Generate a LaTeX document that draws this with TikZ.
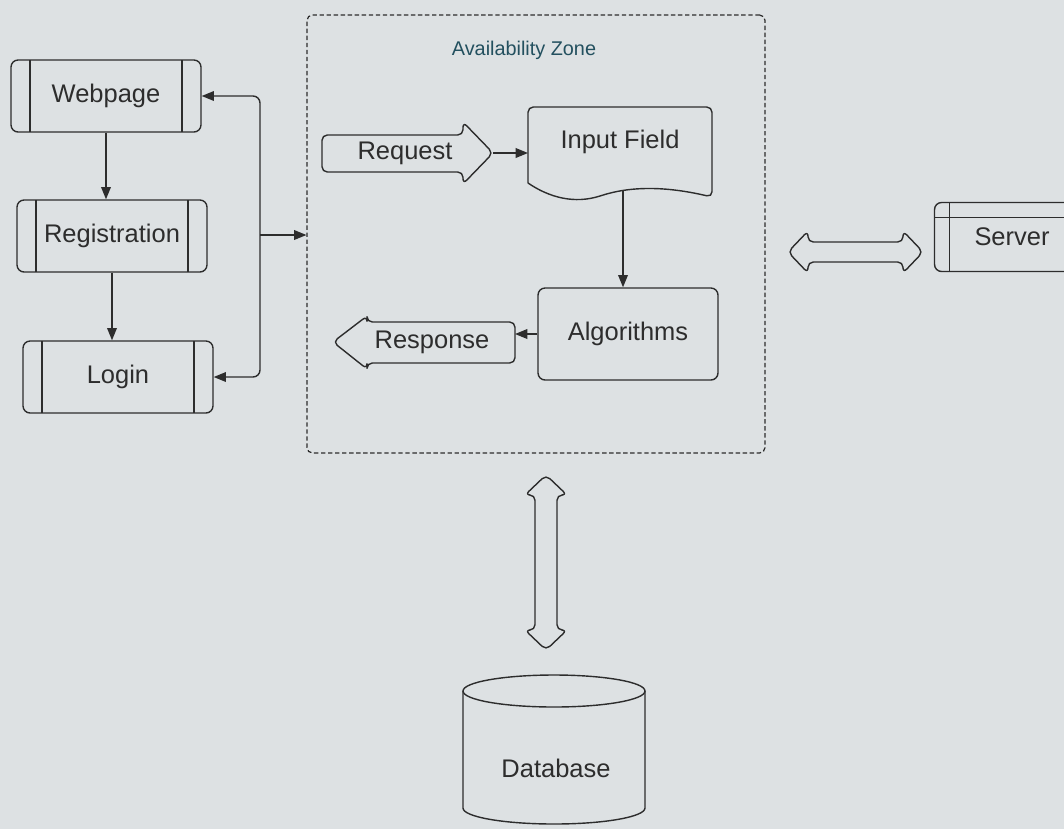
\documentclass[tikz,border=0pt]{standalone}
\usepackage{fontspec}
\setmainfont{Liberation Sans}
\usetikzlibrary{calc, arrows.meta}
\definecolor{paper}{RGB}{221,225,227}
\definecolor{ink}{RGB}{45,45,45}
\definecolor{zonetext}{RGB}{35,80,95}

\begin{document}
\begin{tikzpicture}[x=0.02cm, y=-0.02cm, color=ink, line width=0.8pt,
  font=\fontsize{14.5}{17}\selectfont,
  tip/.style={-{Triangle[length=7pt,width=5.5pt]}},
  procbox/.style={draw, rounded corners=4pt, minimum width=3.8cm, minimum height=1.44cm,
    path picture={\draw
      ([xshift=0.38cm]path picture bounding box.north west) -- ([xshift=0.38cm]path picture bounding box.south west)
      ([xshift=-0.38cm]path picture bounding box.north east) -- ([xshift=-0.38cm]path picture bounding box.south east);}},
  blockarrow/.style={draw, rounded corners=3pt, line join=round},
  zonebox/.style={draw, line width=0.7pt, dash pattern=on 2.5pt off 1.5pt, rounded corners=3pt,
    minimum width=9.16cm, minimum height=8.76cm}]
  \fill[paper, use as bounding box] (0,0) rectangle (1064,829);

  % left column
  \node[procbox] (web) at (106,96) {Webpage};
  \node[procbox] (reg) at (112,236) {Registration};
  \node[procbox] (login) at (118,377) {Login};
  \draw[tip] (web.south) -- (web.south |- reg.north);
  \draw[tip] (reg.south) -- (reg.south |- login.north);
  \coordinate (bus) at (260,235);
  \draw[{Triangle[length=7pt,width=5.5pt]}-{Triangle[length=7pt,width=5.5pt]}, rounded corners=4pt]
    (web.east) -| (bus) |- (login.east);

  % availability zone
  \node[zonebox] (zone) at (536,234) {};
  \node[text=zonetext, font=\fontsize{11.3}{13}\selectfont] (zonetitle) at (524,50) {Availability Zone};
  \draw[tip] (bus) -- (bus -| zone.west);

  \draw[blockarrow] (463,135) -- (463,122) -- (493,153) -- (463,184) -- (463,172)
    -- (322,172) -- (322,135) -- cycle;
  \node (req) at (405,153) {Request};
  \coordinate (reqtip) at (493,153);
  \coordinate (fieldin) at (528,153);

  \draw[rounded corners=3pt] (528,183) -- (528,107) -- (712,107) -- (712,197)
    [sharp corners] .. controls (665,186) and (630,186) .. (600,196)
    .. controls (575,204) and (550,198) .. (528,183);
  \node (field) at (620,142) {Input Field};
  \coordinate (fieldbot) at (623,190);

  \node[draw, rounded corners=4pt, minimum width=3.6cm, minimum height=1.84cm] (alg) at (628,334) {Algorithms};

  \draw[blockarrow] (367,322) -- (367,316) -- (333,342) -- (367,369) -- (367,363)
    -- (515,363) -- (515,322) -- cycle;
  \node (resp) at (432,342) {Response};
  \coordinate (respend) at (515,334);

  \draw[tip] (reqtip) -- (fieldin);
  \draw[tip] (fieldbot) -- (fieldbot |- alg.north);
  \draw[tip] (alg.west) -- (respend);

  % server
  \draw[blockarrow] (788,252) -- (808,231) -- (808,242) -- (903,242) -- (903,231) -- (923,252)
    -- (903,273) -- (903,262) -- (808,262) -- (808,273) -- cycle;
  \node[draw, rounded corners=4pt, minimum width=3.1cm, minimum height=1.38cm,
    path picture={\draw
      ([yshift=-0.3cm]path picture bounding box.north west) -- ([yshift=-0.3cm]path picture bounding box.north east)
      ([xshift=0.3cm]path picture bounding box.north west) -- ([xshift=0.3cm]path picture bounding box.south west);}]
    (server) at (1012,237) {Server};

  % database
  \draw[blockarrow] (546,475) -- (567,495) -- (557,495) -- (557,630) -- (567,630) -- (546,650)
    -- (525,630) -- (535,630) -- (535,495) -- (525,495) -- cycle;
  \draw (463,691) -- (463,808) arc[start angle=180, end angle=0, x radius=91, y radius=16] -- (645,691);
  \draw (554,691) ellipse [x radius=91, y radius=16];
  \node (db) at (556,768) {Database};
\end{tikzpicture}
\end{document}
